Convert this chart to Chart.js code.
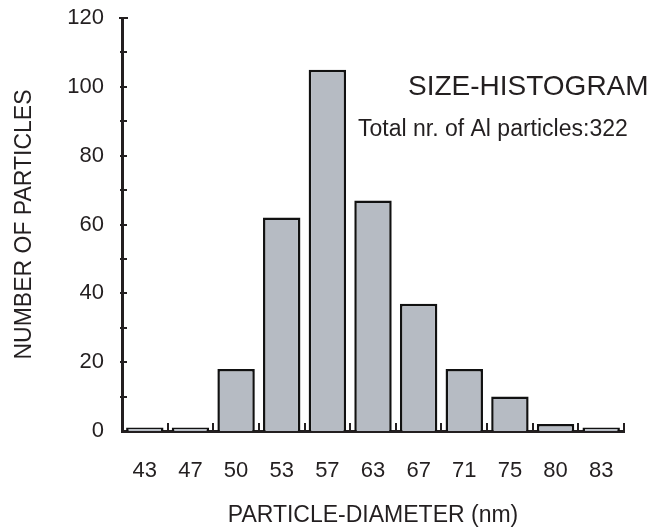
<!DOCTYPE html>
<html>
<head>
<meta charset="utf-8">
<script src="https://cdn.jsdelivr.net/npm/chart.js@4"></script>
<style>
  html, body { margin:0; padding:0; background:#fff; }
  #wrap { width:663px; height:530px; }
</style>
</head>
<body>
<div id="wrap"><canvas id="chart" width="663" height="530"></canvas></div>
<script>
// data
const diameters = ['43','47','50','53','57','63','67','71','75','80','83'];
const counts = [1, 1, 18, 62, 105, 67, 37, 18, 10, 2, 1];
const yTicks = [0, 20, 40, 60, 80, 100, 120];
const titleText = 'SIZE-HISTOGRAM';
const noteText = 'Total nr. of Al particles:322';

const ink = '#231f20';
const fam = '"Liberation Sans", Arial, Helvetica, sans-serif';

// small tick marks + the text block in the corner
const extras = {
  id:'extras',
  afterDraw(chart){
    const {ctx, chartArea:a, scales:{x, y}} = chart;
    ctx.save();
    ctx.strokeStyle = ink; ctx.lineWidth = 2;
    // y minor ticks (inside)
    for(let v=10; v<120; v+=10){
      const py = Math.round(y.getPixelForValue(v));
      ctx.beginPath(); ctx.moveTo(a.left-2, py); ctx.lineTo(a.left+5, py); ctx.stroke();
    }
    const top = y.getPixelForValue(120);
    ctx.beginPath(); ctx.moveTo(a.left-3, top); ctx.lineTo(a.left+6, top); ctx.stroke();
    // x ticks between categories
    for(let k=1; k<=diameters.length; k++){
      const px = Math.round(x.getPixelForValue(k-0.5));
      ctx.beginPath(); ctx.moveTo(px, a.bottom); ctx.lineTo(px, a.bottom-8); ctx.stroke();
    }
    ctx.fillStyle = ink; ctx.textAlign = 'left'; ctx.textBaseline = 'alphabetic';
    ctx.font = '28px ' + fam;
    ctx.fillText(titleText, 408, 95);
    ctx.font = '23px ' + fam;
    ctx.fillText(noteText, 358, 136);
    ctx.restore();
  }
};

new Chart(document.getElementById('chart'), {
  type:'bar',
  data:{
    labels: diameters,
    datasets:[{
      data: counts,
      backgroundColor:'#b6bbc3',
      borderColor:'#111',
      borderWidth:2.5,
      barPercentage:0.82,
      categoryPercentage:1
    }]
  },
  options:{
    responsive:false,
    animation:false,
    layout:{ padding:{ top:18, right:39, left:0, bottom:0 } },
    plugins:{ legend:{display:false}, tooltip:{enabled:false} },
    scales:{
      x:{
        grid:{ display:false },
        border:{ display:true, color:ink, width:3 },
        ticks:{ color:ink, font:{ family:fam, size:22 }, padding:19, maxRotation:0 },
        title:{ display:true, text:'PARTICLE-DIAMETER (nm)', color:ink, font:{ family:fam, size:23 }, padding:{ top:0, bottom:1 } },
        afterFit(s){ s.height = 99; s.paddingLeft = 0; s.paddingRight = 0; }
      },
      y:{
        min:0, max:120,
        grid:{ display:false, drawTicks:false },
        border:{ display:true, color:ink, width:3 },
        afterBuildTicks(s){ s.ticks = yTicks.map(v=>({value:v})); },
        ticks:{ color:ink, font:{ family:fam, size:22 }, padding:18 },
        title:{ display:true, text:'NUMBER OF PARTICLES', color:ink, font:{ family:fam, size:23 }, padding:{ top:11, bottom:0 } },
        afterFit(s){ s.width = 122; s.paddingTop = 0; s.paddingBottom = 0; }
      }
    }
  },
  plugins:[extras]
});
</script>
</body>
</html>
